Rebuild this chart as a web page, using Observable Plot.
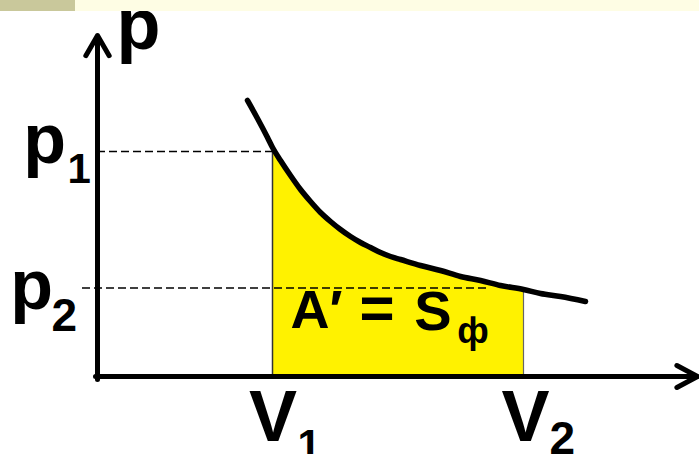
<!DOCTYPE html>
<html><head><meta charset="utf-8">
<script src="https://cdn.jsdelivr.net/npm/d3@7"></script>
<script src="https://cdn.jsdelivr.net/npm/@observablehq/plot@0.6"></script>
<style>
html,body{margin:0;padding:0;background:#fff;}
#wrap{position:relative;width:699px;height:454px;overflow:hidden;background:#fff;}
#chart svg{display:block;}
#band{position:absolute;left:0;top:0;width:699px;height:11px;background:#fefde4;}
#tab{position:absolute;left:0;top:0;width:75px;height:11px;background:#c9c89b;}
</style></head><body>
<div id="wrap"><div id="chart"></div><div id="band"></div><div id="tab"></div></div>
<script>
// Isotherm curve (V, p in arbitrary units)
const curveV = [1.50,1.60,1.70,1.75,1.83,1.93,2.03,2.13,2.23,2.33,2.43,2.53,2.63,2.73,2.83,2.93,3.03,3.23,3.43,3.63,3.83,4.03,4.26,4.43,4.63,4.88];
const curveP = [2.76,2.58,2.39,2.29,2.16,2.01,1.87,1.75,1.64,1.55,1.47,1.40,1.34,1.29,1.24,1.20,1.17,1.11,1.06,1.00,0.96,0.91,0.87,0.83,0.80,0.75];
const V1 = 1.75, V2 = 4.26;
const p1 = 2.25, p2 = 0.885;
const vAxisEnd = 6.0, pAxisEnd = 3.41;
const p2DashStart = -0.15, p2DashEnd = 3.93;
const axisLabels = {p: "p", V: "V", sub1: "1", sub2: "2"};
const areaLabel = ["A′", "=", "S", "ф"];

const pts = curveV.map((v, i) => ({V: v, p: curveP[i]}));
const fillPts = pts.filter(d => d.V >= V1 && d.V <= V2);
const font = "'Liberation Sans', Arial, Helvetica, sans-serif";

const lbl = (t, x, y, o) => Plot.text([t], {
  x: () => x, y: () => y, text: d => d,
  fontFamily: font, fontWeight: "bold", fill: "#000", lineAnchor: "bottom", ...o
});

const chart = Plot.plot({
  width: 699, height: 454, margin: 0,
  x: {domain: [-0.97, 6.02], axis: null},
  y: {domain: [-0.78, 3.76], axis: null},
  style: {background: "transparent", overflow: "visible"},
  marks: [
    Plot.areaY(fillPts, {x: "V", y: "p", fill: "#fff200", curve: "monotone-x"}),
    Plot.ruleX([V1], {y1: 0, y2: fillPts[0].p, stroke: "#333", strokeWidth: 1.5}),
    Plot.ruleX([V2], {y1: 0, y2: fillPts[fillPts.length - 1].p, stroke: "#666", strokeWidth: 1.2}),
    Plot.ruleY([p1], {x1: 0, x2: V1, stroke: "#000", strokeWidth: 1.5, strokeDasharray: "8,4"}),
    Plot.ruleY([p2], {x1: p2DashStart, x2: p2DashEnd, stroke: "#000", strokeWidth: 1.5, strokeDasharray: "8,4"}),
    Plot.line(pts, {x: "V", y: "p", stroke: "#000", strokeWidth: 5.5, curve: "monotone-x", strokeLinecap: "round"}),
    Plot.arrow([0], {x1: () => 0, y1: () => -0.03, x2: () => 0, y2: () => pAxisEnd, stroke: "#000", strokeWidth: 5, headLength: 7, headAngle: 60}),
    Plot.arrow([0], {x1: () => -0.02, y1: () => 0, x2: () => vAxisEnd, y2: () => 0, stroke: "#000", strokeWidth: 5, headLength: 7, headAngle: 56}),
    // axis letters
    lbl(axisLabels.p, 0, pAxisEnd, {textAnchor: "start", dx: 19, dy: 13.5, fontSize: 72}),
    lbl(axisLabels.p, 0, p1, {textAnchor: "end", dx: -31.5, dy: 11.5, fontSize: 70}),
    lbl(axisLabels.sub1, 0, p1, {textAnchor: "start", dx: -30, dy: 31, fontSize: 42}),
    lbl(axisLabels.p, 0, p2, {textAnchor: "end", dx: -44.5, dy: 21, fontSize: 70}),
    lbl(axisLabels.sub2, 0, p2, {textAnchor: "start", dx: -46, dy: 42.5, fontSize: 46}),
    lbl(axisLabels.V, V1, 0, {textAnchor: "middle", dx: 0.5, dy: 64, fontSize: 72}),
    lbl(axisLabels.sub1, V1, 0, {textAnchor: "start", dx: 25, dy: 82, fontSize: 42}),
    lbl(axisLabels.V, V2, 0, {textAnchor: "middle", dx: 2, dy: 64, fontSize: 72}),
    lbl(axisLabels.sub2, V2, 0, {textAnchor: "start", dx: 26, dy: 77, fontSize: 46}),
    // area label
    lbl(areaLabel[0], V1, 0, {textAnchor: "start", dx: 18, dy: -49, fontSize: 54}),
    lbl(areaLabel[1], V1, 0, {textAnchor: "middle", dx: 104.5, dy: -49, fontSize: 60}),
    lbl(areaLabel[2], V1, 0, {textAnchor: "middle", dx: 160.5, dy: -47, fontSize: 56}),
    lbl(areaLabel[3], V1, 0, {textAnchor: "middle", dx: 200.5, dy: -33.5, fontSize: 36})
  ]
});
document.getElementById("chart").appendChild(chart);
</script>
</body></html>
